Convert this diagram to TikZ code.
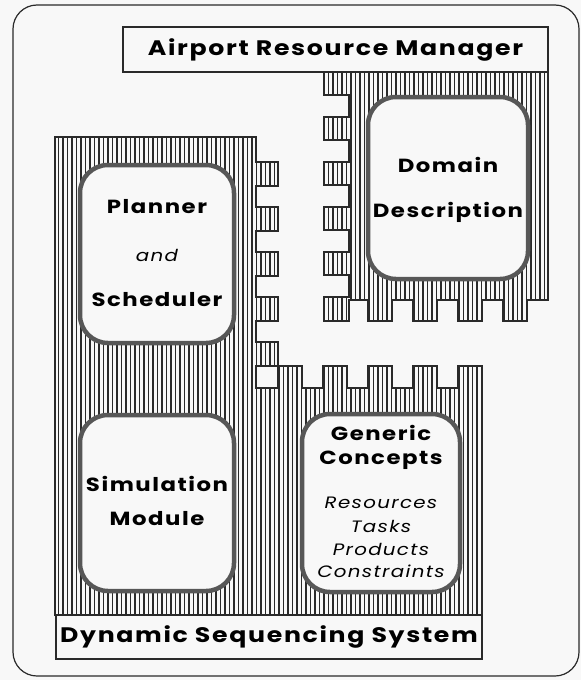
\documentclass[tikz,border=0pt]{standalone}
\usepackage{fontspec}
\newfontfamily\armfont{Poppins}[LetterSpace=8,FakeStretch=1.2]
\usepackage{xcolor}
\definecolor{armink}{HTML}{2A2A2A}
\definecolor{armrim}{HTML}{575757}
\definecolor{armpaper}{HTML}{F8F8F8}
\usetikzlibrary{patterns.meta}
\tikzset{
  armhatch/.style={draw=armink,line width=2.2pt,pattern={Lines[angle=90,distance=4.5pt,line width=1.9pt]},pattern color=armink},
  armcard/.style={draw=armrim,fill=armpaper,line width=4.5pt,rounded corners=28pt,inner sep=0pt},
  armbar/.style={draw=armink,fill=armpaper,line width=1.6pt,inner sep=0pt},
  armhead/.style={font=\armfont\bfseries\fontsize{21}{24}\selectfont},
  armname/.style={font=\armfont\bfseries\fontsize{19}{22}\selectfont,inner sep=0pt},
  armitem/.style={font=\armfont\itshape\fontsize{16.5}{19}\selectfont,inner sep=0pt},
}

\begin{document}
\begin{tikzpicture}[x=1pt,y=-1pt]
\useasboundingbox (0,0) rectangle (581,680);
\fill[armpaper] (0,0) rectangle (581,680);
\draw[armink,line width=1.2pt,rounded corners=24pt] (13,5) rectangle (579,676);
 % dynamic sequencing system: left column plus lower right part, pins on the edges
\draw[armhatch] (55,137) -- (256,137)
  \foreach \t in {162,207,252,297,342}{ -- (256,\t) -- (278,\t) -- (278,{\t+24}) -- (256,{\t+24})}
  -- (256,388)
  \foreach \s in {278,323,368,413}{ -- (\s,388) -- (\s,366) -- ({\s+24},366) -- ({\s+24},388)}
  -- (458,388) -- (458,366) -- (482,366) -- (482,615) -- (55,615) -- cycle;
 % domain description block
\draw[armhatch] (324,72) -- (548,72) -- (548,300)
  \foreach \s in {503,458,413,368}{ -- ({\s+24},300) -- ({\s+24},321) -- (\s,321) -- (\s,300)}
  -- (349,300) -- (349,321) -- (324,321) -- (324,297) -- (349,297)
  \foreach \t in {252,207,162,117}{ -- (349,{\t+23}) -- (324,{\t+23}) -- (324,\t) -- (349,\t)}
  -- (349,95) -- (324,95) -- cycle;
 % cards
\node[armcard,minimum width=154pt,minimum height=178pt] (plancard) at (157,254) {};
\node[armcard,minimum width=154pt,minimum height=176pt] (simcard) at (157,503) {};
\node[armcard,minimum width=158pt,minimum height=178pt] (genericcard) at (381,503) {};
\node[armcard,minimum width=160pt,minimum height=182pt] (domaincard) at (448,188) {};
 % bars
\node[armbar,armhead,minimum width=425pt,minimum height=45pt] (armbar) at (335.5,49.5) {Airport Resource Manager};
\node[armbar,armhead,minimum width=426pt,minimum height=44pt] (dssbar) at (269,637) {Dynamic Sequencing System};
 % labels
\node[armname] (planner) at (157,207) {Planner};
\node[armitem] (and) at (157,255) {and};
\node[armname] (scheduler) at (157,300) {Scheduler};
\node[armname] (simulation) at (157,484) {Simulation};
\node[armname] (module) at (157,519) {Module};
\node[armname] (domain) at (448,165) {Domain};
\node[armname] (description) at (448,212) {Description};
\node[armname] (generic) at (381,433) {Generic};
\node[armname] (concepts) at (381,460) {Concepts};
\node[armitem] (resources) at (381,503) {Resources};
\node[armitem] (tasks) at (381,526) {Tasks};
\node[armitem] (products) at (381,549) {Products};
\node[armitem] (constraints) at (381,571) {Constraints};
\end{tikzpicture}
\end{document}
